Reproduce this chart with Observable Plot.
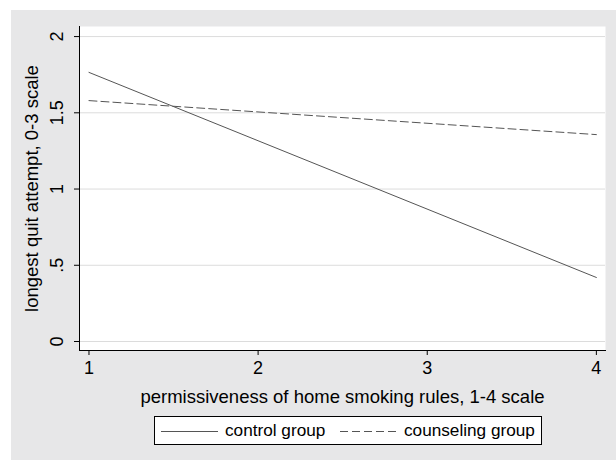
<!DOCTYPE html>
<html><head>
<meta charset="utf-8">
<script src="https://cdn.jsdelivr.net/npm/d3@7"></script>
<script src="https://cdn.jsdelivr.net/npm/@observablehq/plot@0.6"></script>
<style>
body{margin:0;background:#fff;font-family:"Liberation Sans",Arial,sans-serif;}
#wrap{position:absolute;left:11px;top:10px;width:605px;height:450px;background:#e7e7e8;}
#wrap > svg{position:absolute;left:0;top:0;}
#legend{position:absolute;left:143px;top:406px;width:386px;height:27px;border:1px solid #000;background:#fff;font-size:17.2px;color:#000;}
#legend .item{position:absolute;top:0;height:27px;display:flex;align-items:center;white-space:nowrap;}
</style>
</head><body>
<div id="wrap"><div id="legend"></div></div>
<script>
const groups = ["control group", "counseling group"];
const xValues = [1, 4];
const controlY = [1.765, 0.42];
const counselingY = [1.58, 1.357];
const xTicks = [1, 2, 3, 4];
const yTicks = [0, 0.5, 1, 1.5, 2];
const xLabel = "permissiveness of home smoking rules, 1-4 scale";
const yLabel = "longest quit attempt, 0-3 scale";

const lineColor = "#555";
const dash = "8,4";

const control = xValues.map((x, i) => ({x, y: controlY[i], g: groups[0]}));
const counseling = xValues.map((x, i) => ({x, y: counselingY[i], g: groups[1]}));
const fmt = d => String(d).replace(/^0\./, ".");

const chart = Plot.plot({
  width: 605, height: 400,
  marginLeft: 68, marginTop: 16, marginRight: 11, marginBottom: 60,
  style: {background: "transparent", fontFamily: "Liberation Sans, Arial, sans-serif", fontSize: "18px", color: "#000"},
  x: {domain: [0.944, 4.054], ticks: xTicks},
  y: {domain: [-0.059, 2.066], ticks: yTicks},
  marks: [
    Plot.frame({fill: "white", stroke: null}),
    Plot.gridY(yTicks, {stroke: "#dcdcdc", strokeOpacity: 1, strokeWidth: 1}),
    Plot.line(control, {x: "x", y: "y", stroke: lineColor, strokeWidth: 1}),
    Plot.line(counseling, {x: "x", y: "y", stroke: lineColor, strokeWidth: 1, strokeDasharray: dash}),
    Plot.axisX(xTicks, {tickSize: 5, tickPadding: 6, tickFormat: fmt, fontSize: 18, label: null, stroke: "#000"}),
    Plot.axisX({label: xLabel, ticks: [], tickSize: 0, labelAnchor: "center", labelArrow: "none", labelOffset: 52, fontSize: 18.5}),
    Plot.axisY(yTicks, {tickSize: 5, tickPadding: 12, tickRotate: -90, tickFormat: fmt, fontSize: 18, label: null, stroke: "#000"}),
    Plot.axisY({label: yLabel, ticks: [], tickSize: 0, labelAnchor: "center", labelArrow: "none", labelOffset: 55, fontSize: 18.5}),
    Plot.frame({anchor: "left", stroke: "#000"}),
    Plot.frame({anchor: "bottom", stroke: "#000"})
  ]
});
document.getElementById("wrap").prepend(chart);

const legend = document.getElementById("legend");
[[groups[0], null, 6], [groups[1], dash, 185]].forEach(([name, da, left]) => {
  const item = document.createElement("div");
  item.className = "item";
  item.style.left = left + "px";
  const s = d3.create("svg").attr("width", 57).attr("height", 10).style("margin-right", "7px");
  s.append("line").attr("x1", 0).attr("x2", 57).attr("y1", 5.5).attr("y2", 5.5)
    .attr("stroke", lineColor).attr("stroke-width", 1).attr("stroke-dasharray", da);
  item.appendChild(s.node());
  const t = document.createElement("span");
  t.textContent = name;
  item.appendChild(t);
  legend.appendChild(item);
});
</script>
</body></html>
